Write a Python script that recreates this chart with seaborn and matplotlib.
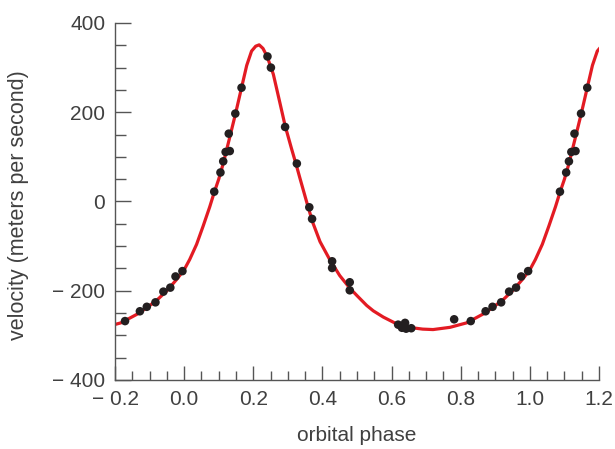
import numpy as np
import pandas as pd
import matplotlib
matplotlib.use("Agg")
import matplotlib.pyplot as plt
import matplotlib.ticker as ticker
import seaborn as sns

# one orbital period (the plot shows it repeated)
curve_phase = [0.000, 0.016, 0.036, 0.055, 0.074, 0.086, 0.100, 0.113, 0.130, 0.149,
               0.166, 0.181, 0.195, 0.207, 0.217, 0.228, 0.240, 0.258, 0.277, 0.292,
               0.310, 0.325, 0.335, 0.354, 0.371, 0.393, 0.421, 0.450, 0.479, 0.500,
               0.528, 0.547, 0.576, 0.614, 0.650, 0.690, 0.720, 0.769, 0.817, 0.870,
               0.920, 0.950, 0.978, 1.000]
curve_vel = [-153, -130, -96, -55, -12, 18, 50, 85, 138, 198,
             255, 305, 337, 348, 351, 343, 325, 285, 221, 170,
             120, 80, 52, 0, -45, -90, -130, -166, -194, -211,
             -233, -245, -259, -274, -282, -286, -287, -282, -272, -250,
             -222, -200, -175, -153]

obs_phase = [0.087, 0.105, 0.113, 0.120, 0.132, 0.129, 0.148, 0.166, 0.241, 0.251,
             0.292, 0.326, 0.362, 0.370, 0.428, 0.428, 0.479, 0.479, 0.619, 0.630,
             0.639, 0.642, 0.657, 0.781, 0.829, 0.872, 0.892, 0.917, 0.940, 0.960,
             0.975, 0.995]
obs_vel = [22, 65, 90, 111, 113, 152, 197, 255, 325, 300,
           167, 85, -13, -39, -134, -149, -181, -199, -276, -283,
           -272, -285, -284, -264, -268, -246, -236, -226, -202, -193,
           -168, -156]

shifts = [-1, 0, 1]

curve = pd.concat([pd.DataFrame({'phase': np.array(curve_phase) + s,
                                 'velocity': curve_vel, 'cycle': s}) for s in shifts])
obs = pd.concat([pd.DataFrame({'phase': np.array(obs_phase) + s,
                               'velocity': obs_vel}) for s in shifts])
obs = obs[(obs['phase'] >= -0.2) & (obs['phase'] <= 1.2)]

sns.set_theme(style="ticks")
plt.rcParams['font.family'] = ['Liberation Sans', 'DejaVu Sans']

text_col = '#404040'
axis_col = '#555555'

fig = plt.figure(figsize=(6.15, 4.49), dpi=100)
ax = fig.add_axes([0.187, 0.1537, 0.787, 0.7951])

sns.lineplot(data=curve, x='phase', y='velocity', units='cycle', estimator=None,
             sort=False, color='#e31b23', linewidth=2.3, ax=ax, zorder=2)
sns.scatterplot(data=obs, x='phase', y='velocity', color='#231f20', s=38,
                edgecolor='none', ax=ax, zorder=3)

ax.set_xlim(-0.2, 1.2)
ax.set_ylim(-400, 400)

ax.xaxis.set_major_locator(ticker.MultipleLocator(0.2))
ax.xaxis.set_minor_locator(ticker.MultipleLocator(0.05))
ax.yaxis.set_major_locator(ticker.MultipleLocator(200))
ax.yaxis.set_minor_locator(ticker.MultipleLocator(50))


def fmt_x(v, _):
    s = f'{abs(v):.1f}'
    return f'\u2212 {s}' if v < -1e-9 else s


def fmt_y(v, _):
    s = f'{abs(int(round(v)))}'
    return f'\u2212 {s}' if v < -1e-9 else s


ax.xaxis.set_major_formatter(ticker.FuncFormatter(fmt_x))
ax.yaxis.set_major_formatter(ticker.FuncFormatter(fmt_y))

ax.tick_params(which='both', direction='in', color=axis_col, width=1.0,
               labelsize=15, labelcolor=text_col)
ax.tick_params(axis='x', which='major', length=10, pad=7)
ax.tick_params(axis='x', which='minor', length=6.5)
ax.tick_params(axis='y', which='major', length=11.5, pad=7)
ax.tick_params(axis='y', which='minor', length=8)

sns.despine(ax=ax)
for side in ['left', 'bottom']:
    ax.spines[side].set_color(axis_col)
    ax.spines[side].set_linewidth(1.0)

ax.set_xlabel('orbital phase', fontsize=15, color=text_col)
ax.set_ylabel('velocity (meters per second)', fontsize=15.5, color=text_col)
ax.xaxis.set_label_coords(0.499, -0.13)
ax.yaxis.set_label_coords(-0.178, 0.49)

fig.savefig('out.png', dpi=100)
